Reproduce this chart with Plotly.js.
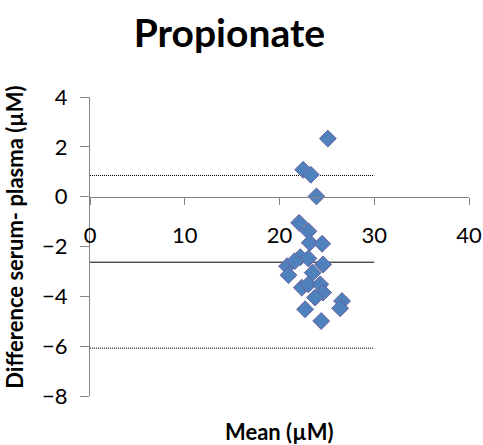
<!DOCTYPE html>
<html><head><meta charset="utf-8">
<script src="https://cdn.plot.ly/plotly-3.0.1.min.js"></script>
<style>html,body{margin:0;padding:0;background:#fff}#c{width:483px;height:445px}</style>
</head><body><div id="c"></div>
<script>
const meanX = [25.1, 22.5, 23.3, 23.9, 22.07, 23.05, 23.2, 24.5, 22.2, 23.05, 24.6, 20.8, 21.6, 20.95, 23.5, 22.35, 23.05, 24.3, 24.6, 23.75, 26.6, 26.4, 22.7, 24.4];
const diffY = [2.33, 1.08, 0.88, 0.01, -1.05, -1.39, -1.85, -1.89, -2.43, -2.48, -2.72, -2.79, -2.59, -3.15, -3.05, -3.65, -3.52, -3.52, -3.85, -4.05, -4.19, -4.48, -4.52, -4.99];
const lineX = [0, 30];
const upperLimit = 0.85;
const meanDiff = -2.63;
const lowerLimit = -6.08;
const xTicks = [0, 10, 20, 30, 40];
const yTicks = [-8, -6, -4, -2, 0, 2, 4];

const FONT = 'Lato, "Open Sans", sans-serif';
const traces = [
  {x: lineX, y: [upperLimit, upperLimit], mode: 'lines', line: {color: '#000', width: 1, dash: '1px,1px'}, hoverinfo: 'skip'},
  {x: lineX, y: [meanDiff, meanDiff], mode: 'lines', line: {color: '#000', width: 1}, hoverinfo: 'skip'},
  {x: lineX, y: [lowerLimit, lowerLimit], mode: 'lines', line: {color: '#000', width: 1, dash: '1px,1px'}, hoverinfo: 'skip'},
  {x: meanX, y: diffY, mode: 'markers', marker: {symbol: 'diamond', size: 13, color: '#4F81BD', line: {color: '#6A62A0', width: 1}}}
];
const layout = {
  width: 483, height: 445,
  margin: {l: 90, r: 14, t: 97, b: 49},
  paper_bgcolor: '#fff', plot_bgcolor: '#fff',
  showlegend: false,
  font: {family: FONT, color: '#000', size: 22},
  title: {text: '<b>Propionate</b>', font: {family: FONT, size: 39, color: '#000'}, x: 0.475, xanchor: 'center', y: 0.925, yanchor: 'middle'},
  xaxis: {range: [0, 40], tickvals: xTicks, ticks: 'outside', ticklen: 7, tickcolor: '#868686', showline: true, linecolor: '#868686', linewidth: 1, showgrid: false, zeroline: false, anchor: 'free', position: 8/12, ticklabelstandoff: 12, tickfont: {size: 22, family: FONT}},
  yaxis: {range: [-8, 4], tickvals: yTicks, ticks: 'outside', ticklen: 9, tickcolor: '#868686', showline: true, linecolor: '#868686', linewidth: 1, showgrid: false, zeroline: false, ticklabelstandoff: 8, tickfont: {size: 22, family: FONT}},
  annotations: [
    {text: '<b>Mean (µM)</b>', xref: 'paper', yref: 'paper', x: 0.5, y: -0.118, xanchor: 'center', yanchor: 'middle', showarrow: false, font: {family: FONT, size: 22}},
    {text: '<b>Difference serum- plasma (µM)</b>', xref: 'paper', yref: 'paper', x: -0.2, y: 0.53, textangle: -90, xanchor: 'center', yanchor: 'middle', showarrow: false, font: {family: FONT, size: 22}}
  ]
};
Plotly.newPlot('c', traces, layout, {displayModeBar: false, staticPlot: true});
</script></body></html>
